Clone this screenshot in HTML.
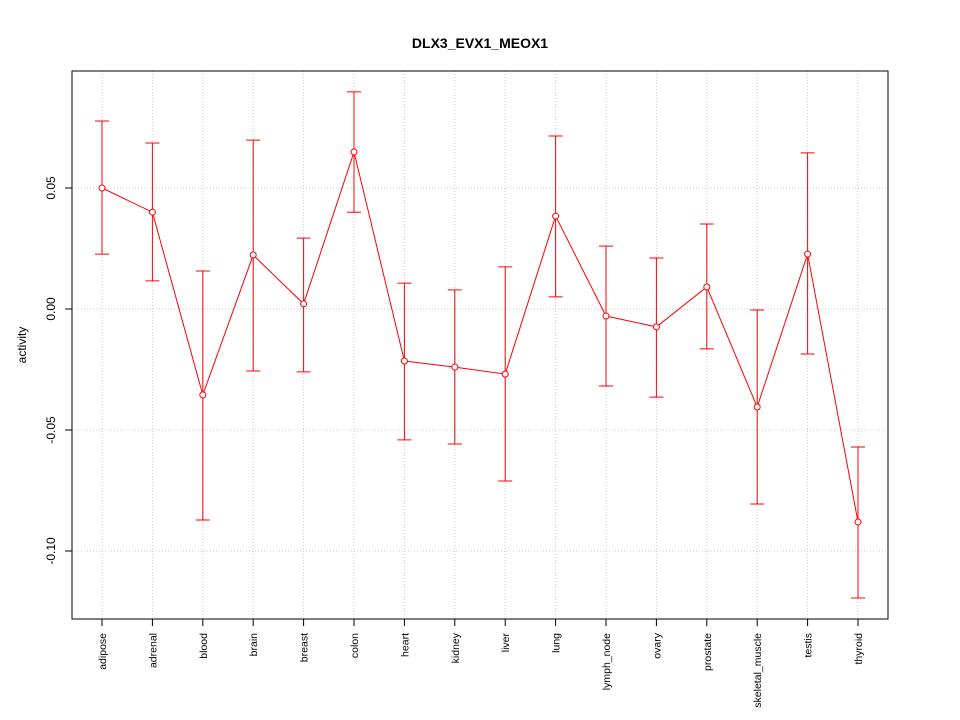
<!DOCTYPE html>
<html><head><meta charset="utf-8"><style>body{margin:0;background:#fff}svg{display:block;font-family:"Liberation Sans",sans-serif}</style></head>
<body>
<svg id="chart" width="960" height="720">
<text x="480" y="48" text-anchor="middle" font-size="14" font-weight="bold">DLX3_EVX1_MEOX1</text>
<text transform="translate(26,345) rotate(-90)" text-anchor="middle" font-size="12">activity</text>
<g id="grid"></g><g id="axes"></g><g id="marks"></g>
<rect x="72" y="71" width="816" height="548" fill="none" stroke="#000"/>
</svg>
<script>
const categories=["adipose","adrenal","blood","brain","breast","colon","heart","kidney","liver","lung","lymph_node","ovary","prostate","skeletal_muscle","testis","thyroid"];
const means=[0.050,0.040,-0.0355,0.0223,0.0021,0.0649,-0.0215,-0.024,-0.0269,0.0384,-0.0029,-0.0074,0.0091,-0.0405,0.0227,-0.088];
const upper=[0.0777,0.0686,0.0157,0.0698,0.0293,0.0897,0.0107,0.0079,0.0174,0.0715,0.026,0.0211,0.0351,-0.0004,0.0645,-0.057];
const lower=[0.0227,0.0116,-0.0872,-0.0256,-0.026,0.040,-0.0541,-0.0558,-0.0711,0.005,-0.0318,-0.0364,-0.0165,-0.0806,-0.0186,-0.1194];
const yTicks=[0.05,0,-0.05,-0.10];
const yTickLabels=["0.05","0.00","-0.05","-0.10"];
const NS="http://www.w3.org/2000/svg";
const xs=i=>102+i*(858-102)/(categories.length-1);
const ys=v=>309-v*2420;
function mk(tag,attrs,parent){const e=document.createElementNS(NS,tag);for(const k in attrs)e.setAttribute(k,attrs[k]);document.getElementById(parent).appendChild(e);return e;}
categories.forEach((c,i)=>{
 const g=mk("line",{x1:xs(i),x2:xs(i),y1:71,y2:619,stroke:"#ccc","stroke-dasharray":"1,2"},"grid");
 
 
 const t=mk("line",{x1:xs(i),x2:xs(i),y1:619,y2:626,stroke:"#000"},"axes");
 
 
 const l=mk("text",{transform:`translate(${xs(i)+4},633) rotate(-90)`,"text-anchor":"end","font-size":"10.5"},"axes");
 l.textContent=c;
 
 
});
yTicks.forEach((v,i)=>{
 const g=mk("line",{x1:72,x2:888,y1:ys(v),y2:ys(v),stroke:"#ccc","stroke-dasharray":"1,2"},"grid");
 
 
 const t=mk("line",{x1:65,x2:72,y1:ys(v),y2:ys(v),stroke:"#000"},"axes");
 
 
 const l=mk("text",{transform:`translate(55,${ys(v)}) rotate(-90)`,"text-anchor":"middle","font-size":"12"},"axes");
 l.textContent=yTickLabels[i];
 
 
});
const p=mk("polyline",{points:means.map((m,i)=>xs(i)+","+ys(m)).join(" "),fill:"none",stroke:"red"},"marks");


categories.forEach((c,i)=>{
 const x=xs(i);
 const e=mk("path",{d:`M${x},${ys(upper[i])}V${ys(lower[i])}M${x-7},${ys(upper[i])}H${x+7}M${x-7},${ys(lower[i])}H${x+7}`,stroke:"red",fill:"none"},"marks");
 
 
 const d=mk("circle",{cx:x,cy:ys(means[i]),r:3,fill:"#fff",stroke:"red"},"marks");
 
 
});
</script>
</body></html>
